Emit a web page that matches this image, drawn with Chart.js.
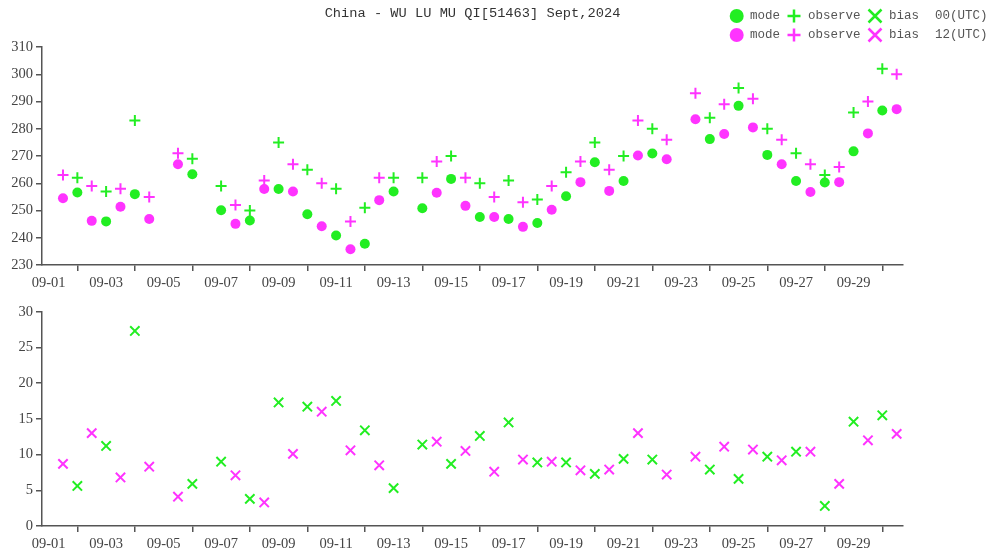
<!DOCTYPE html>
<html>
<head>
<meta charset="utf-8">
<script src="https://cdn.jsdelivr.net/npm/chart.js@4/dist/chart.umd.min.js"></script>
<style>
html,body{margin:0;padding:0;background:#fff;}
#wrap{position:relative;width:992px;height:552px;overflow:hidden;}
#c1{position:absolute;left:0;top:0;}
#c2{position:absolute;left:0;top:300px;}
</style>
</head>
<body>
<div id="wrap">
<canvas id="c1" width="992" height="300"></canvas>
<canvas id="c2" width="992" height="252"></canvas>
</div>
<script>
// ---- data (index 0 = Sept 1) ----
const obs00  = [null,262,257,283,null,269,259,250,275,265,258,251,262,262,270,260,261,254,264,275,270,280,null,284,295,280,271,263,286,302];
const mode00 = [null,256.6,246.0,256.0,null,263.3,250.1,246.3,257.9,248.6,240.8,237.8,257.0,250.8,261.6,247.6,246.9,245.4,255.2,267.7,260.8,270.9,null,276.2,288.4,270.4,260.8,260.3,271.7,286.7];
const bias00 = [null,5.6,11.2,27.3,null,5.9,9.0,3.8,17.3,16.7,17.5,13.4,5.3,11.4,8.7,12.6,14.5,8.9,8.9,7.3,9.4,9.3,null,7.9,6.6,9.7,10.4,2.8,14.6,15.5];
const obs12  = [263,259,258,255,271,null,252,261,267,260,246,262,null,268,262,255,253,259,268,265,283,276,293,289,291,276,267,266,290,300];
const mode12 = [254.5,246.2,251.4,246.9,267.0,null,245.1,257.9,257.0,244.2,235.8,253.8,null,256.5,251.7,247.6,244.0,250.3,260.4,257.2,270.2,268.8,283.5,278.1,280.5,267.0,256.8,260.4,278.3,287.2];
const bias12 = [8.7,13.0,6.8,8.3,4.1,null,7.1,3.3,10.1,16.0,10.6,8.5,null,11.8,10.5,7.6,9.3,9.0,7.8,7.9,13.0,7.2,9.7,11.1,10.7,9.2,10.4,5.9,12.0,12.9];
const tickLabels = ['09-01','09-03','09-05','09-07','09-09','09-11','09-13','09-15','09-17','09-19','09-21','09-23','09-25','09-27','09-29'];
const titleText = 'China - WU LU MU QI[51463] Sept,2024';
const legendRows = ['00(UTC)','12(UTC)'];
const legendNames = ['mode','observe','bias'];

// ---- styles ----
const GREEN = '#22ee22';
const MAGENTA = '#ff33ff';
const AXIS = '#555';
const TICKTXT = '#444';
const TICKFONT = {family:'"Liberation Serif", serif', size:14.5};
const DAYPX = 28.75;

function pts(vals, offset){
  const out = [];
  vals.forEach((v,i)=>{ if(v!==null) out.push({x:i+offset, y:v}); });
  return out;
}
const tickPos = tickLabels.map((_,i)=>2*i+1);

function xScale(h){
  return {
    type:'linear', min:-0.23, max:29.72,
    afterBuildTicks: s => { s.ticks = tickPos.map(v=>({value:v})); },
    afterFit: s => { s.height = h; },
    ticks:{autoSkip:false, maxRotation:0, minRotation:0, labelOffset:-DAYPX, padding:3, color:TICKTXT, font:TICKFONT,
      callback:(v,i)=>tickLabels[i]},
    grid:{drawOnChartArea:false, drawTicks:true, tickLength:6, color:AXIS, lineWidth:1.5},
    border:{display:true, color:AXIS, width:1.5}
  };
}
function yScale(min,max,step){
  return {
    min:min, max:max,
    afterFit: s => { s.width = 42; },
    ticks:{stepSize:step, padding:3, color:TICKTXT, font:TICKFONT},
    grid:{drawOnChartArea:false, drawTicks:true, tickLength:6, color:AXIS, lineWidth:1.5},
    border:{display:true, color:AXIS, width:1.5}
  };
}

function marker(ctx, type, x, y, r, color, lw){
  ctx.save();
  ctx.fillStyle = color; ctx.strokeStyle = color; ctx.lineWidth = lw;
  ctx.beginPath();
  if(type==='circle'){ ctx.arc(x,y,r,0,Math.PI*2); ctx.fill(); }
  else if(type==='cross'){ ctx.moveTo(x-r,y); ctx.lineTo(x+r,y); ctx.moveTo(x,y-r); ctx.lineTo(x,y+r); ctx.stroke(); }
  else { ctx.moveTo(x-r,y-r); ctx.lineTo(x+r,y+r); ctx.moveTo(x+r,y-r); ctx.lineTo(x-r,y+r); ctx.stroke(); }
  ctx.restore();
}

const headerPlugin = {
  id:'header',
  afterDraw(chart){
    const ctx = chart.ctx;
    ctx.save();
    ctx.fillStyle = '#333';
    ctx.font = '13.7px "Liberation Mono", monospace';
    ctx.textAlign = 'center';
    ctx.textBaseline = 'middle';
    ctx.fillText(titleText, 472.5, 13.5);
    const colors = [GREEN, MAGENTA];
    const ys = [16, 35];
    ctx.font = '12.5px "Liberation Mono", monospace';
    ctx.textAlign = 'left';
    ctx.fillStyle = '#555';
    for(let k=0;k<2;k++){
      const y = ys[k], c = colors[k];
      marker(ctx,'circle',736.7,y,7,c,0);
      ctx.fillStyle = '#555'; ctx.fillText(legendNames[0],750,y);
      marker(ctx,'cross',794,y,6.5,c,2.5);
      ctx.fillStyle = '#555'; ctx.fillText(legendNames[1],808,y);
      marker(ctx,'x',875,y,6.5,c,2.5);
      ctx.fillStyle = '#555'; ctx.fillText(legendNames[2],889,y);
      ctx.fillText(legendRows[k],935,y);
    }
    ctx.restore();
  }
};

const common = {
  responsive:false, animation:false,
  plugins:{legend:{display:false}, tooltip:{enabled:false}, title:{display:false}}
};

new Chart(document.getElementById('c1'), {
  type:'scatter',
  data:{datasets:[
    {label:'mode 00(UTC)', data:pts(mode00,0), pointStyle:'circle', pointRadius:5, backgroundColor:GREEN, borderColor:GREEN, borderWidth:0},
    {label:'mode 12(UTC)', data:pts(mode12,0.5), pointStyle:'circle', pointRadius:5, backgroundColor:MAGENTA, borderColor:MAGENTA, borderWidth:0},
    {label:'observe 00(UTC)', data:pts(obs00,0), pointStyle:'cross', pointRadius:5.5, backgroundColor:GREEN, borderColor:GREEN, borderWidth:2},
    {label:'observe 12(UTC)', data:pts(obs12,0.5), pointStyle:'cross', pointRadius:5.5, backgroundColor:MAGENTA, borderColor:MAGENTA, borderWidth:2}
  ]},
  options:Object.assign({}, common, {
    layout:{padding:{top:47, right:89, left:0, bottom:0}},
    scales:{x:xScale(35), y:yScale(230,310,10)}
  }),
  plugins:[headerPlugin]
});

new Chart(document.getElementById('c2'), {
  type:'scatter',
  data:{datasets:[
    {label:'bias 00(UTC)', data:pts(bias00,0), pointStyle:'crossRot', pointRadius:6.6, backgroundColor:GREEN, borderColor:GREEN, borderWidth:2},
    {label:'bias 12(UTC)', data:pts(bias12,0.5), pointStyle:'crossRot', pointRadius:6.6, backgroundColor:MAGENTA, borderColor:MAGENTA, borderWidth:2}
  ]},
  options:Object.assign({}, common, {
    layout:{padding:{top:9, right:89, left:0, bottom:0}},
    scales:{x:xScale(26), y:yScale(0,30,5)}
  })
});
</script>
</body>
</html>
